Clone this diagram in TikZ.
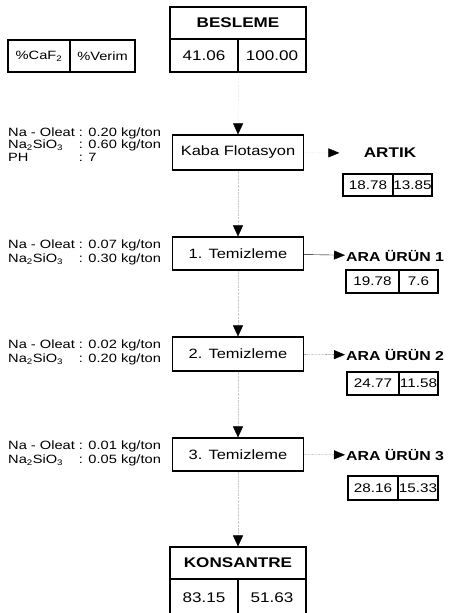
\documentclass[tikz,border=0pt]{standalone}
\usepackage{fontspec}
\setmainfont[FakeStretch=1.22]{Liberation Sans}
\usetikzlibrary{arrows.meta}

\tikzset{
  cell/.style={draw, line width=1.1pt, inner sep=0pt, font=\fontsize{12.5}{15}\selectfont},
  stage/.style={draw, line width=1.1pt, inner sep=0pt, minimum width=131pt, font=\fontsize{13.5}{15}\selectfont},
  head/.style={font=\fontsize{14}{16}\selectfont\bfseries},
  product/.style={inner sep=1pt, font=\fontsize{13}{15}\selectfont\bfseries},
  reagent/.style={anchor=west, inner sep=0pt, font=\fontsize{12}{14}\selectfont},
  flow/.style={black!20, densely dotted, -{Triangle[width=10pt,length=11pt,color=black,fill=black]}},
  side/.style={-{Triangle[width=9pt,length=11pt,color=black,fill=black]}},
}

\begin{document}
\begin{tikzpicture}[x=1pt, y=-1pt]

  \useasboundingbox (0,0) rectangle (451,613);

  % === LEGEND ===
  \node[cell, minimum width=62pt, minimum height=32pt, font=\fontsize{12}{14}\selectfont] (caf) at (39,56) {\%CaF\textsubscript{2}};
  \node[cell, minimum width=65pt, minimum height=32pt, font=\fontsize{12}{14}\selectfont] (verim) at (102.5,56) {\%Verim};

  % === FEED ===
  \node[cell, head, minimum width=136pt, minimum height=32pt] (besleme) at (238,23) {BESLEME};
  \node[cell, minimum width=68pt, minimum height=33pt, font=\fontsize{14}{16}\selectfont] (besa) at (204,55.5) {41.06};
  \node[cell, minimum width=68pt, minimum height=33pt, font=\fontsize{14}{16}\selectfont] (besb) at (272,55.5) {100.00};

  % === STAGES ===
  \node[stage, minimum height=35pt] (kaba) at (238,152.5) {Kaba Flotasyon};
  \node[stage, minimum height=33pt] (tem1) at (238,253.5) {1. Temizleme};
  \node[stage, minimum height=34pt] (tem2) at (238,354) {2. Temizleme};
  \node[stage, minimum height=33pt] (tem3) at (238,454.5) {3. Temizleme};

  % reagents, left of each stage
  \node[reagent, font=\fontsize{12}{12.5}\selectfont] (rkaba) at (8,146) {%
    \begin{tabular}{@{}l@{ }l@{}}
      Na - Oleat & : 0.20 kg/ton\\
      Na\textsubscript{2}SiO\textsubscript{3} & : 0.60 kg/ton\\
      PH & : 7
    \end{tabular}};
  \node[reagent] (rtem1) at (8,253) {%
    \begin{tabular}{@{}l@{ }l@{}}
      Na - Oleat & : 0.07 kg/ton\\
      Na\textsubscript{2}SiO\textsubscript{3} & : 0.30 kg/ton
    \end{tabular}};
  \node[reagent] (rtem2) at (8,353) {%
    \begin{tabular}{@{}l@{ }l@{}}
      Na - Oleat & : 0.02 kg/ton\\
      Na\textsubscript{2}SiO\textsubscript{3} & : 0.20 kg/ton
    \end{tabular}};
  \node[reagent] (rtem3) at (8,454) {%
    \begin{tabular}{@{}l@{ }l@{}}
      Na - Oleat & : 0.01 kg/ton\\
      Na\textsubscript{2}SiO\textsubscript{3} & : 0.05 kg/ton
    \end{tabular}};

  % === SIDE PRODUCTS ===
  \node[head] (artik) at (390,153) {ARTIK};
  \node[cell, minimum width=50pt, minimum height=22pt] (artika) at (368,185) {18.78};
  \node[cell, minimum width=39pt, minimum height=22pt] (artikb) at (412.5,185) {13.85};

  \node[product, anchor=west] (ara1) at (345,256) {ARA ÜRÜN 1};
  \node[cell, minimum width=53pt, minimum height=23pt] (ara1a) at (372.5,281.5) {19.78};
  \node[cell, minimum width=39pt, minimum height=23pt] (ara1b) at (418.5,281.5) {7.6};

  \node[product, anchor=west] (ara2) at (345,355) {ARA ÜRÜN 2};
  \node[cell, minimum width=52pt, minimum height=23pt] (ara2a) at (373,383.5) {24.77};
  \node[cell, minimum width=39pt, minimum height=23pt] (ara2b) at (418.5,383.5) {11.58};

  \node[product, anchor=west] (ara3) at (345,455) {ARA ÜRÜN 3};
  \node[cell, minimum width=50pt, minimum height=24pt] (ara3a) at (373,488) {28.16};
  \node[cell, minimum width=40pt, minimum height=24pt] (ara3b) at (418,488) {15.33};

  % === CONCENTRATE ===
  \node[cell, head, minimum width=136pt, minimum height=32pt] (konsantre) at (238,563) {KONSANTRE};
  \node[cell, minimum width=68pt, minimum height=37pt, font=\fontsize{14}{16}\selectfont] (kona) at (204,597.5) {83.15};
  \node[cell, minimum width=68pt, minimum height=37pt, font=\fontsize{14}{16}\selectfont] (konb) at (272,597.5) {51.63};

  % === FLOW LINES ===
  \draw[flow] (besa.south east) -- (kaba.north);
  \draw[flow] (kaba) -- (tem1);
  \draw[flow] (tem1) -- (tem2);
  \draw[flow] (tem2) -- (tem3);
  \draw[flow] (tem3) -- (konsantre);

  \draw[side, black!20, densely dotted, shorten >=21pt] (kaba) -- (artik.west);
  \draw[side] (tem1) -- (ara1);
  \draw[side, densely dotted] (tem2) -- (ara2);
  \draw[side, densely dotted] (tem3) -- (ara3);

\end{tikzpicture}
\end{document}
